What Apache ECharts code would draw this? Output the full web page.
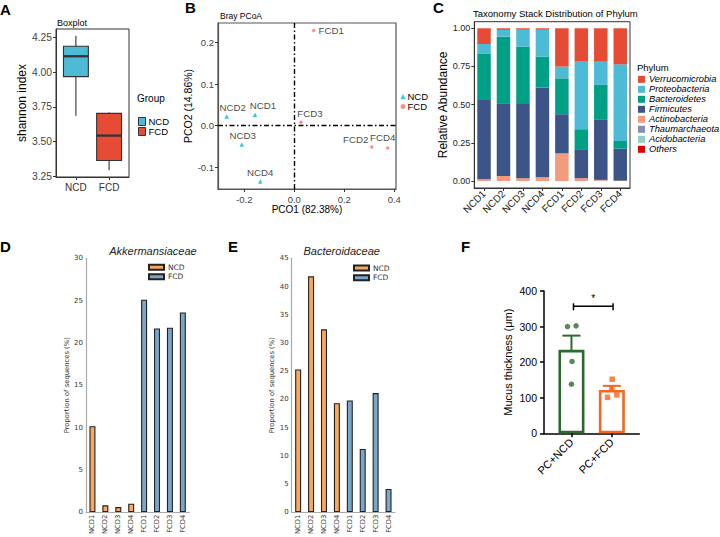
<!DOCTYPE html>
<html><head><meta charset="utf-8">
<script src="https://cdn.jsdelivr.net/npm/echarts@6/dist/echarts.min.js"></script>
<style>html,body{margin:0;padding:0;background:#fff}#c{width:720px;height:537px}</style>
</head><body><div id="c"></div>
<script>
// ---------- Panel A: Boxplot (min, q1, median, q3, max) ----------
const boxGroups = ['NCD', 'FCD'];
const boxNCD = [3.686, 3.967, 4.114, 4.186, 4.262];
const boxFCD = [3.293, 3.364, 3.543, 3.703, 3.71];
const aTicks = [3.25, 3.5, 3.75, 4.0, 4.25];

// ---------- Panel B: Bray PCoA ----------
const ncdNames = ['NCD1', 'NCD2', 'NCD3', 'NCD4'];
const ncdPCO1 = [-0.157, -0.27, -0.21, -0.136];
const ncdPCO2 = [0.026, 0.022, -0.046, -0.135];
const fcdNames = ['FCD1', 'FCD2', 'FCD3', 'FCD4'];
const fcdPCO1 = [0.078, 0.31, 0.027, 0.374];
const fcdPCO2 = [0.229, -0.052, 0.008, -0.054];
const bXTicks = [-0.2, 0, 0.2, 0.4];
const bYTicks = [-0.1, 0, 0.1, 0.2];

// ---------- Panel C: Phylum stack ----------
const samples = ['NCD1', 'NCD2', 'NCD3', 'NCD4', 'FCD1', 'FCD2', 'FCD3', 'FCD4'];
const phylumOrder = ['Verrucomicrobia', 'Proteobacteria', 'Bacteroidetes', 'Firmicutes', 'Actinobacteria', 'Thaumarchaeota', 'Acidobacteria', 'Others'];
const verrucomicrobia = [0.103, 0.011, 0.010, 0.010, 0.251, 0.219, 0.219, 0.236];
const proteobacteria  = [0.065, 0.044, 0.110, 0.176, 0.077, 0.442, 0.152, 0.502];
const bacteroidetes   = [0.302, 0.436, 0.376, 0.203, 0.235, 0.131, 0.225, 0.050];
const firmicutes      = [0.519, 0.476, 0.486, 0.587, 0.256, 0.190, 0.397, 0.210];
const actinobacteria  = [0.011, 0.033, 0.018, 0.024, 0.181, 0.018, 0.005, 0.002];
const thaumarchaeota  = [0.000, 0.000, 0.000, 0.000, 0.000, 0.000, 0.002, 0.000];
const acidobacteria   = [0.000, 0.000, 0.000, 0.000, 0.000, 0.000, 0.000, 0.000];
const others          = [0.000, 0.000, 0.000, 0.000, 0.000, 0.000, 0.000, 0.000];
const cTicks = [0, 0.25, 0.5, 0.75, 1.0];

// ---------- Panel D: Akkermansiaceae ----------
const dNCD = [10.15, 0.8, 0.6, 1.0];
const dFCD = [25.1, 21.7, 21.8, 23.6];
// ---------- Panel E: Bacteroidaceae ----------
const eNCD = [25.3, 41.8, 32.4, 19.3];
const eFCD = [19.8, 11.2, 21.1, 4.1];

// ---------- Panel F: Mucus thickness ----------
const fGroups = ['PC+NCD', 'PC+FCD'];
const fMean = [234.6, 122];
const fSem = [40, 11.4];
const fPointsNCD = [300, 302, 202, 138];
const fPointsFCD = [152, 101, 108, 127];
const fSignifY = 357;

// ---------- styles ----------
const F1 = 'Liberation Sans, Arial, sans-serif';
const DV = 'DejaVu Sans, sans-serif';
const npg = {Verrucomicrobia:'#E64B35', Proteobacteria:'#4DBBD5', Bacteroidetes:'#00A087', Firmicutes:'#3C5488',
  Actinobacteria:'#F39B7F', Thaumarchaeota:'#8491B4', Acidobacteria:'#91D1C2', Others:'#DC0000'};
const phylumData = {Verrucomicrobia:verrucomicrobia, Proteobacteria:proteobacteria, Bacteroidetes:bacteroidetes,
  Firmicutes:firmicutes, Actinobacteria:actinobacteria, Thaumarchaeota:thaumarchaeota, Acidobacteria:acidobacteria, Others:others};
const ncdLabelOffset = [[8,0],[6,0],[1,0],[0,0]];
const fcdLabelOffset = [[3,0],[-16,1],[9,0],[-5,-2]];
const jitNCD = [-4, 4.6, 0.6, 0];
const jitFCD = [0.4, -4.3, 5, 0];
const orange = '#FAA85E', steel = '#7AA6CA';
const green = '#2D6A30', orangeF = '#F5661F';

const chart = echarts.init(document.getElementById('c'), null, {renderer: 'svg', width: 720, height: 537});

function letter(t, l, tp) { return {text: t, left: l, top: tp, padding: 0, textStyle: {fontFamily: F1, fontWeight: 'bold', fontSize: 15, color: '#000'}}; }
function plain(t, l, tp, size, extra) { return Object.assign({text: t, left: l, top: tp, padding: 0, textStyle: Object.assign({fontFamily: F1, fontWeight: 'normal', fontSize: size, color: '#000'}, extra || {})}); }

function boxRender(params, api) {
  const x = api.value(0);
  const lo = api.coord([x, api.value(1)]), q1 = api.coord([x, api.value(2)]), md = api.coord([x, api.value(3)]),
        q3 = api.coord([x, api.value(4)]), hi = api.coord([x, api.value(5)]);
  const w = api.size([0.75, 0])[0];
  const fill = api.visual('color');
  return {type: 'group', children: [
    {type: 'line', shape: {x1: hi[0], y1: hi[1], x2: q3[0], y2: q3[1]}, style: {stroke: '#333', lineWidth: 1.1}},
    {type: 'line', shape: {x1: q1[0], y1: q1[1], x2: lo[0], y2: lo[1]}, style: {stroke: '#333', lineWidth: 1.1}},
    {type: 'rect', shape: {x: q3[0] - w / 2, y: q3[1], width: w, height: q1[1] - q3[1]}, style: {fill: fill, stroke: '#333', lineWidth: 1.1}},
    {type: 'line', shape: {x1: md[0] - w / 2, y1: md[1], x2: md[0] + w / 2, y2: md[1]}, style: {stroke: '#333', lineWidth: 2.3}}
  ]};
}
function errRender(params, api) {
  const x = api.value(0), m = api.value(1), s = api.value(2);
  const top = api.coord([x, m + s]), bot = api.coord([x, m - s]);
  const cw = 9;
  const c = api.visual('color');
  const st = {stroke: c, lineWidth: 2};
  return {type: 'group', children: [
    {type: 'line', shape: {x1: top[0], y1: top[1], x2: bot[0], y2: bot[1]}, style: st},
    {type: 'line', shape: {x1: top[0] - cw, y1: top[1], x2: top[0] + cw, y2: top[1]}, style: st},
    {type: 'line', shape: {x1: bot[0] - cw, y1: bot[1], x2: bot[0] + cw, y2: bot[1]}, style: st}
  ]};
}
function sigRender(params, api) {
  const a = api.coord([api.value(0), api.value(2)]), b = api.coord([api.value(1), api.value(2)]);
  const st = {stroke: '#000', lineWidth: 1.5};
  return {type: 'group', children: [
    {type: 'line', shape: {x1: a[0], y1: a[1], x2: b[0], y2: b[1]}, style: st},
    {type: 'line', shape: {x1: a[0], y1: a[1] - 3, x2: a[0], y2: a[1] + 4}, style: st},
    {type: 'line', shape: {x1: b[0], y1: b[1] - 3, x2: b[0], y2: b[1] + 4}, style: st},
    {type: 'text', style: {text: '*', x: (a[0] + b[0]) / 2, y: a[1] - 3, textAlign: 'center', textVerticalAlign: 'bottom', fontSize: 10, fontFamily: F1, fill: '#000'}}
  ]};
}

const cSeries = phylumOrder.slice().reverse().map(p => ({
  type: 'bar', name: 'C:' + p, stack: 'phy', xAxisIndex: 2, yAxisIndex: 2, barWidth: 13.5,
  itemStyle: {color: npg[p]}, data: phylumData[p], silent: true
}));

function padNCD(arr) { return arr.concat(['-', '-', '-', '-']); }
function padFCD(arr) { return ['-', '-', '-', '-'].concat(arr); }

const option = {
  animation: false,
  backgroundColor: '#fff',
  title: [
    letter('A', 0, 2), letter('B', 185, 0), letter('C', 433, 0),
    letter('D', 0, 239), letter('E', 228, 239), letter('F', 461, 239),
    plain('Boxplot', 57, 18, 9),
    plain('Group', 137, 93, 10),
    plain('Bray PCoA', 220, 11, 8.5),
    plain('Taxonomy Stack Distribution of Phylum', 473, 8, 9.5),
    plain('Phylum', 637, 62, 9.5),
    Object.assign(plain('Akkermansiaceae', 153, 245, 11, {fontStyle: 'italic', color: '#222'}), {textAlign: 'center'}),
    Object.assign(plain('Bacteroidaceae', 341.7, 245, 11, {fontStyle: 'italic', color: '#222'}), {textAlign: 'center'})
  ],
  legend: [
    {selectedMode: false, orient: 'vertical', left: 138, top: 116.5, padding: 0, itemGap: 0, itemWidth: 7, itemHeight: 8,
     icon: 'rect', formatter: n => n.split(':')[1],
     textStyle: {fontFamily: F1, fontSize: 9.5, color: '#000', lineHeight: 9, padding: [0, 0, 0, -2]},
     data: [{name: 'A:NCD', itemStyle: {color: '#4DBBD5', borderColor: '#333', borderWidth: 1}},
            {name: 'A:FCD', itemStyle: {color: '#E64B35', borderColor: '#333', borderWidth: 1}}]},
    {selectedMode: false, orient: 'vertical', left: 400.5, top: 91.5, padding: 0, itemGap: 0, itemWidth: 5, itemHeight: 5,
     formatter: n => n.split(':')[1],
     textStyle: {fontFamily: F1, fontSize: 9.5, color: '#000', lineHeight: 9, padding: [0, 0, 0, -3]},
     data: ['B:NCD', 'B:FCD']},
    {selectedMode: false, orient: 'vertical', left: 638, top: 74.3, padding: 0, itemGap: 0, itemWidth: 7, itemHeight: 7,
     icon: 'rect', formatter: n => n.split(':')[1],
     textStyle: {fontFamily: F1, fontSize: 9.3, fontStyle: 'italic', color: '#000', lineHeight: 10, padding: [0, 0, 0, -1]},
     data: phylumOrder.map(p => 'C:' + p)},
    {selectedMode: false, orient: 'vertical', left: 148, top: 262.6, padding: 0, itemGap: 0, itemWidth: 15, itemHeight: 5,
     icon: 'rect', formatter: n => n.split(':')[1],
     textStyle: {fontFamily: DV, fontSize: 7.5, color: '#333', lineHeight: 9.4, padding: [0, 0, 0, -1]},
     data: ['D:NCD', 'D:FCD']},
    {selectedMode: false, orient: 'vertical', left: 353, top: 263.2, padding: 0, itemGap: 0, itemWidth: 15, itemHeight: 5,
     icon: 'rect', formatter: n => n.split(':')[1],
     textStyle: {fontFamily: DV, fontSize: 7.5, color: '#333', lineHeight: 9.7, padding: [0, 0, 0, -1]},
     data: ['E:NCD', 'E:FCD']}
  ],
  grid: [
    {left: 56, top: 29, width: 73, height: 148, show: true, borderColor: '#333', borderWidth: 1, backgroundColor: 'transparent'},
    {left: 218, top: 23, width: 178, height: 166, show: true, borderColor: '#555', borderWidth: 1.2, backgroundColor: 'transparent'},
    {left: 474.3, top: 21.7, width: 155.7, height: 166.3, show: true, borderColor: '#333', borderWidth: 1, backgroundColor: 'transparent'},
    {left: 86, top: 258.3, width: 103.3, height: 256},
    {left: 291.7, top: 258.3, width: 103.3, height: 257},
    {left: 544, top: 291, width: 95.3, height: 142.3}
  ],
  xAxis: [
    {gridIndex: 0, type: 'value', min: 0.4, max: 2.6, splitLine: {show: false},
     axisLine: {show: true, onZero: false, lineStyle: {color: '#333'}},
     axisTick: {show: true, customValues: [1, 2], length: 3, lineStyle: {color: '#333'}},
     axisLabel: {customValues: [1, 2], formatter: v => boxGroups[Math.round(v) - 1], color: '#333', fontSize: 10, margin: 5, fontFamily: F1}},
    {gridIndex: 1, type: 'value', min: -0.305, max: 0.407, splitLine: {show: false},
     axisLine: {show: true, onZero: false, lineStyle: {color: '#555', width: 1.2}},
     axisTick: {show: true, customValues: bXTicks, length: 3, lineStyle: {color: '#333'}},
     axisLabel: {customValues: bXTicks, formatter: v => v.toFixed(1), color: '#444', fontSize: 9.5, margin: 5, fontFamily: F1},
     name: 'PCO1 (82.38%)', nameLocation: 'middle', nameGap: 15, nameTextStyle: {fontFamily: F1, fontSize: 10, color: '#000'}},
    {gridIndex: 2, type: 'category', data: samples,
     axisLine: {show: true, onZero: false, lineStyle: {color: '#333'}},
     axisTick: {show: true, alignWithLabel: true, length: 3, lineStyle: {color: '#333'}},
     axisLabel: {rotate: 45, interval: 0, color: '#222', fontSize: 10, margin: 4, fontFamily: F1}},
    {gridIndex: 3, type: 'category', data: samples,
     axisLine: {show: true, onZero: false, lineStyle: {color: '#aaa', width: 1.2}}, axisTick: {show: false},
     axisLabel: {rotate: 90, interval: 0, color: '#333', fontSize: 6.8, margin: 2.5, fontFamily: DV}},
    {gridIndex: 4, type: 'category', data: samples,
     axisLine: {show: true, onZero: false, lineStyle: {color: '#aaa', width: 1.2}}, axisTick: {show: false},
     axisLabel: {rotate: 90, interval: 0, color: '#333', fontSize: 6.8, margin: 2.5, fontFamily: DV}},
    {gridIndex: 5, type: 'value', min: -0.68, max: 1.68, splitLine: {show: false},
     axisLine: {show: true, onZero: false, lineStyle: {color: '#000', width: 1.5}},
     axisTick: {show: true, customValues: [0, 1], length: 4, lineStyle: {color: '#000', width: 1.5}},
     axisLabel: {customValues: [0, 1], formatter: v => fGroups[Math.round(v)], rotate: 45, color: '#000', fontSize: 11, margin: 7, fontFamily: F1}}
  ],
  yAxis: [
    {gridIndex: 0, type: 'value', min: 3.245, max: 4.31, splitLine: {show: false},
     axisLine: {show: true, onZero: false, lineStyle: {color: '#333'}},
     axisTick: {show: true, customValues: aTicks, length: 3, lineStyle: {color: '#333'}},
     axisLabel: {customValues: aTicks, formatter: v => v.toFixed(2), color: '#444', fontSize: 10.3, margin: 4, fontFamily: F1},
     name: 'shannon index', nameLocation: 'middle', nameGap: 26, nameTextStyle: {fontFamily: F1, fontSize: 12, color: '#000'}},
    {gridIndex: 1, type: 'value', min: -0.153, max: 0.247, splitLine: {show: false},
     axisLine: {show: true, onZero: false, lineStyle: {color: '#555', width: 1.2}},
     axisTick: {show: true, customValues: bYTicks, length: 3, lineStyle: {color: '#333'}},
     axisLabel: {customValues: bYTicks, formatter: v => v.toFixed(1), color: '#444', fontSize: 9.5, margin: 4, fontFamily: F1},
     name: 'PCO2 (14.86%)', nameLocation: 'middle', nameGap: 17, nameTextStyle: {fontFamily: F1, fontSize: 10.5, color: '#000'}},
    {gridIndex: 2, type: 'value', min: -0.046, max: 1.043, splitLine: {show: false},
     axisLine: {show: true, onZero: false, lineStyle: {color: '#333'}},
     axisTick: {show: true, customValues: cTicks, length: 3, lineStyle: {color: '#333'}},
     axisLabel: {customValues: cTicks, formatter: v => v.toFixed(2), color: '#222', fontSize: 9, margin: 4, fontFamily: F1},
     name: 'Relative Abundance', nameLocation: 'middle', nameGap: 20, nameTextStyle: {fontFamily: F1, fontSize: 12, color: '#000'}},
    {gridIndex: 3, type: 'value', min: 0, max: 30, interval: 5, splitLine: {show: false},
     axisLine: {show: true, onZero: false, lineStyle: {color: '#aaa', width: 1.2}}, axisTick: {show: false},
     axisLabel: {color: '#333', fontSize: 7, margin: 3, fontFamily: DV},
     name: 'Proportion of sequences (%)', nameLocation: 'middle', nameGap: 16, nameTextStyle: {fontFamily: DV, fontSize: 6.8, color: '#333'}},
    {gridIndex: 4, type: 'value', min: 0, max: 45, interval: 5, splitLine: {show: false},
     axisLine: {show: true, onZero: false, lineStyle: {color: '#aaa', width: 1.2}}, axisTick: {show: false},
     axisLabel: {color: '#333', fontSize: 7, margin: 3, fontFamily: DV},
     name: 'Proportion of sequences (%)', nameLocation: 'middle', nameGap: 16, nameTextStyle: {fontFamily: DV, fontSize: 6.8, color: '#333'}},
    {gridIndex: 5, type: 'value', min: 0, max: 400, interval: 100, splitLine: {show: false},
     axisLine: {show: true, onZero: false, lineStyle: {color: '#000', width: 1.5}},
     axisTick: {show: true, length: 4, lineStyle: {color: '#000', width: 1.5}},
     axisLabel: {color: '#000', fontSize: 10.5, margin: 7, fontFamily: F1},
     name: 'Mucus thickness (μm)', nameLocation: 'middle', nameGap: 31, nameTextStyle: {fontFamily: F1, fontSize: 11, color: '#000'}}
  ],
  series: [
    // A
    {type: 'custom', name: 'A:NCD', xAxisIndex: 0, yAxisIndex: 0, renderItem: boxRender, itemStyle: {color: '#4DBBD5'},
     encode: {x: 0, y: [1, 2, 3, 4, 5]}, data: [[1].concat(boxNCD)], silent: true},
    {type: 'custom', name: 'A:FCD', xAxisIndex: 0, yAxisIndex: 0, renderItem: boxRender, itemStyle: {color: '#E64B35'},
     encode: {x: 0, y: [1, 2, 3, 4, 5]}, data: [[2].concat(boxFCD)], silent: true},
    // B
    {type: 'scatter', name: 'B:NCD', xAxisIndex: 1, yAxisIndex: 1, symbol: 'triangle', symbolSize: 4.5, itemStyle: {color: '#00BFC4'},
     data: ncdNames.map((n, i) => ({name: n, value: [ncdPCO1[i], ncdPCO2[i]], label: {offset: ncdLabelOffset[i]}})),
     label: {show: true, position: 'top', distance: 2, formatter: p => p.name, fontFamily: F1, fontSize: 9.7, color: '#111'},
     markLine: {silent: true, symbol: 'none', label: {show: false}, lineStyle: {color: '#000', width: 1.4, type: [5, 2.5, 1.5, 2.5]},
       data: [{xAxis: 0}, {yAxis: 0}]}},
    {type: 'scatter', name: 'B:FCD', xAxisIndex: 1, yAxisIndex: 1, symbol: 'circle', symbolSize: 3.5, itemStyle: {color: '#F8766D'},
     data: fcdNames.map((n, i) => ({name: n, value: [fcdPCO1[i], fcdPCO2[i]],
       label: i === 0 ? {position: 'right', distance: 3, offset: [0, 0]} : {offset: fcdLabelOffset[i]}})),
     label: {show: true, position: 'top', distance: 2, formatter: p => p.name, fontFamily: F1, fontSize: 9.7, color: '#111'}},
    // C
    ...cSeries,
    // D
    {type: 'bar', name: 'D:NCD', xAxisIndex: 3, yAxisIndex: 3, barWidth: 6, barGap: '-100%',
     itemStyle: {color: orange, borderColor: '#222', borderWidth: 1.1}, data: padNCD(dNCD), silent: true},
    {type: 'bar', name: 'D:FCD', xAxisIndex: 3, yAxisIndex: 3, barWidth: 6, barGap: '-100%',
     itemStyle: {color: steel, borderColor: '#222', borderWidth: 1.1}, data: padFCD(dFCD), silent: true},
    // E
    {type: 'bar', name: 'E:NCD', xAxisIndex: 4, yAxisIndex: 4, barWidth: 6, barGap: '-100%',
     itemStyle: {color: orange, borderColor: '#222', borderWidth: 1.1}, data: padNCD(eNCD), silent: true},
    {type: 'bar', name: 'E:FCD', xAxisIndex: 4, yAxisIndex: 4, barWidth: 6, barGap: '-100%',
     itemStyle: {color: steel, borderColor: '#222', borderWidth: 1.1}, data: padFCD(eFCD), silent: true},
    // F
    {type: 'bar', name: 'F:bars', xAxisIndex: 5, yAxisIndex: 5, barWidth: 26, silent: true,
     data: [{value: [0, fMean[0]], itemStyle: {color: '#fff', borderColor: green, borderWidth: 2.6}},
            {value: [1, fMean[1]], itemStyle: {color: '#fff', borderColor: orangeF, borderWidth: 2.6}}]},
    {type: 'custom', name: 'F:err', xAxisIndex: 5, yAxisIndex: 5, renderItem: errRender, silent: true,
     encode: {x: 0, y: [1, 2]},
     data: [{value: [0, fMean[0], fSem[0]], itemStyle: {color: green}}, {value: [1, fMean[1], fSem[1]], itemStyle: {color: orangeF}}]},
    {type: 'scatter', name: 'F:NCD', xAxisIndex: 5, yAxisIndex: 5, symbol: 'circle', symbolSize: 5.5, itemStyle: {color: green}, silent: true,
     data: fPointsNCD.map((v, i) => ({value: [0, v], symbolOffset: [jitNCD[i], 0]}))},
    {type: 'scatter', name: 'F:FCD', xAxisIndex: 5, yAxisIndex: 5, symbol: 'rect', symbolSize: 5.5, itemStyle: {color: orangeF}, silent: true,
     data: fPointsFCD.map((v, i) => ({value: [1, v], symbolOffset: [jitFCD[i], 0]}))},
    {type: 'custom', name: 'F:sig', xAxisIndex: 5, yAxisIndex: 5, renderItem: sigRender, silent: true,
     encode: {x: [0, 1], y: 2}, data: [[0.05, 1.03, fSignifY]]}
  ]
};
chart.setOption(option);
</script>
</body></html>
